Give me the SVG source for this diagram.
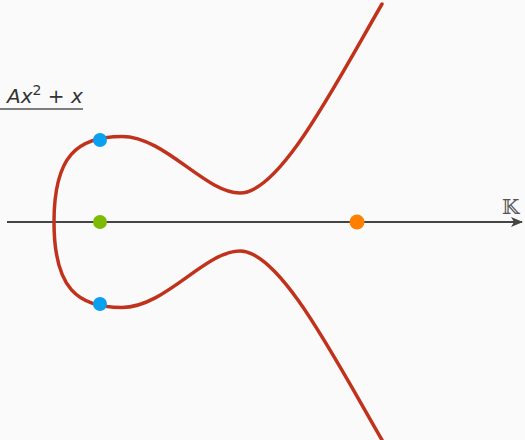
<svg xmlns="http://www.w3.org/2000/svg" width="525" height="440" viewBox="0 0 525 440">
  <style>
    .axis { stroke: #454545; stroke-width: 2; fill: none; }
    .curve { stroke: #c0321c; stroke-width: 3.5; fill: none; stroke-linecap: round; }
    .lbl { font-family: "DejaVu Sans", "Liberation Sans", sans-serif; fill: #333; }
  </style>
  <defs>
    <marker id="arr" viewBox="0 0 12 10" refX="11" refY="5" markerWidth="12" markerHeight="10" markerUnits="userSpaceOnUse" orient="auto">
      <path d="M0,0 L12,5 L0,10 L3,5 Z" fill="#454545"/>
    </marker>
  </defs>
  <rect width="525" height="440" fill="#fafafa"/>
  <g id="connectors">
    <line class="axis" x1="7" y1="222" x2="522" y2="222" marker-end="url(#arr)"/>
    <path class="curve" d="M382,4 C335,85 280,193 240,193 C205,193 165,136.5 122,136.5 C78,136.5 54,155 54,222 C54,289 78,307.5 122,307.5 C165,307.5 205,251 240,251 C280,251 335,359 382,440"/>
  </g>
  <g id="label-fn">
    <text class="lbl" x="7" y="103" font-size="20"><tspan font-style="italic">Ax</tspan><tspan font-size="14" dy="-8">2</tspan><tspan dy="8"> + </tspan><tspan font-style="italic">x</tspan></text>
    <line x1="0" y1="109" x2="83" y2="109" stroke="#555" stroke-width="1.3"/>
  </g>
  <g id="label-K">
    <text x="502" y="214" font-size="20" font-family="'DejaVu Serif', 'DejaVu Sans', serif" fill="#555">𝕂</text>
  </g>
  <g id="p-blue-top"><circle cx="100" cy="140" r="7" fill="#0aa0f0"/></g>
  <g id="p-green"><circle cx="100" cy="222" r="7" fill="#7dbb00"/></g>
  <g id="p-blue-bottom"><circle cx="100" cy="304" r="7" fill="#0aa0f0"/></g>
  <g id="p-orange"><circle cx="357" cy="222" r="7.5" fill="#ff8000"/></g>
</svg>
